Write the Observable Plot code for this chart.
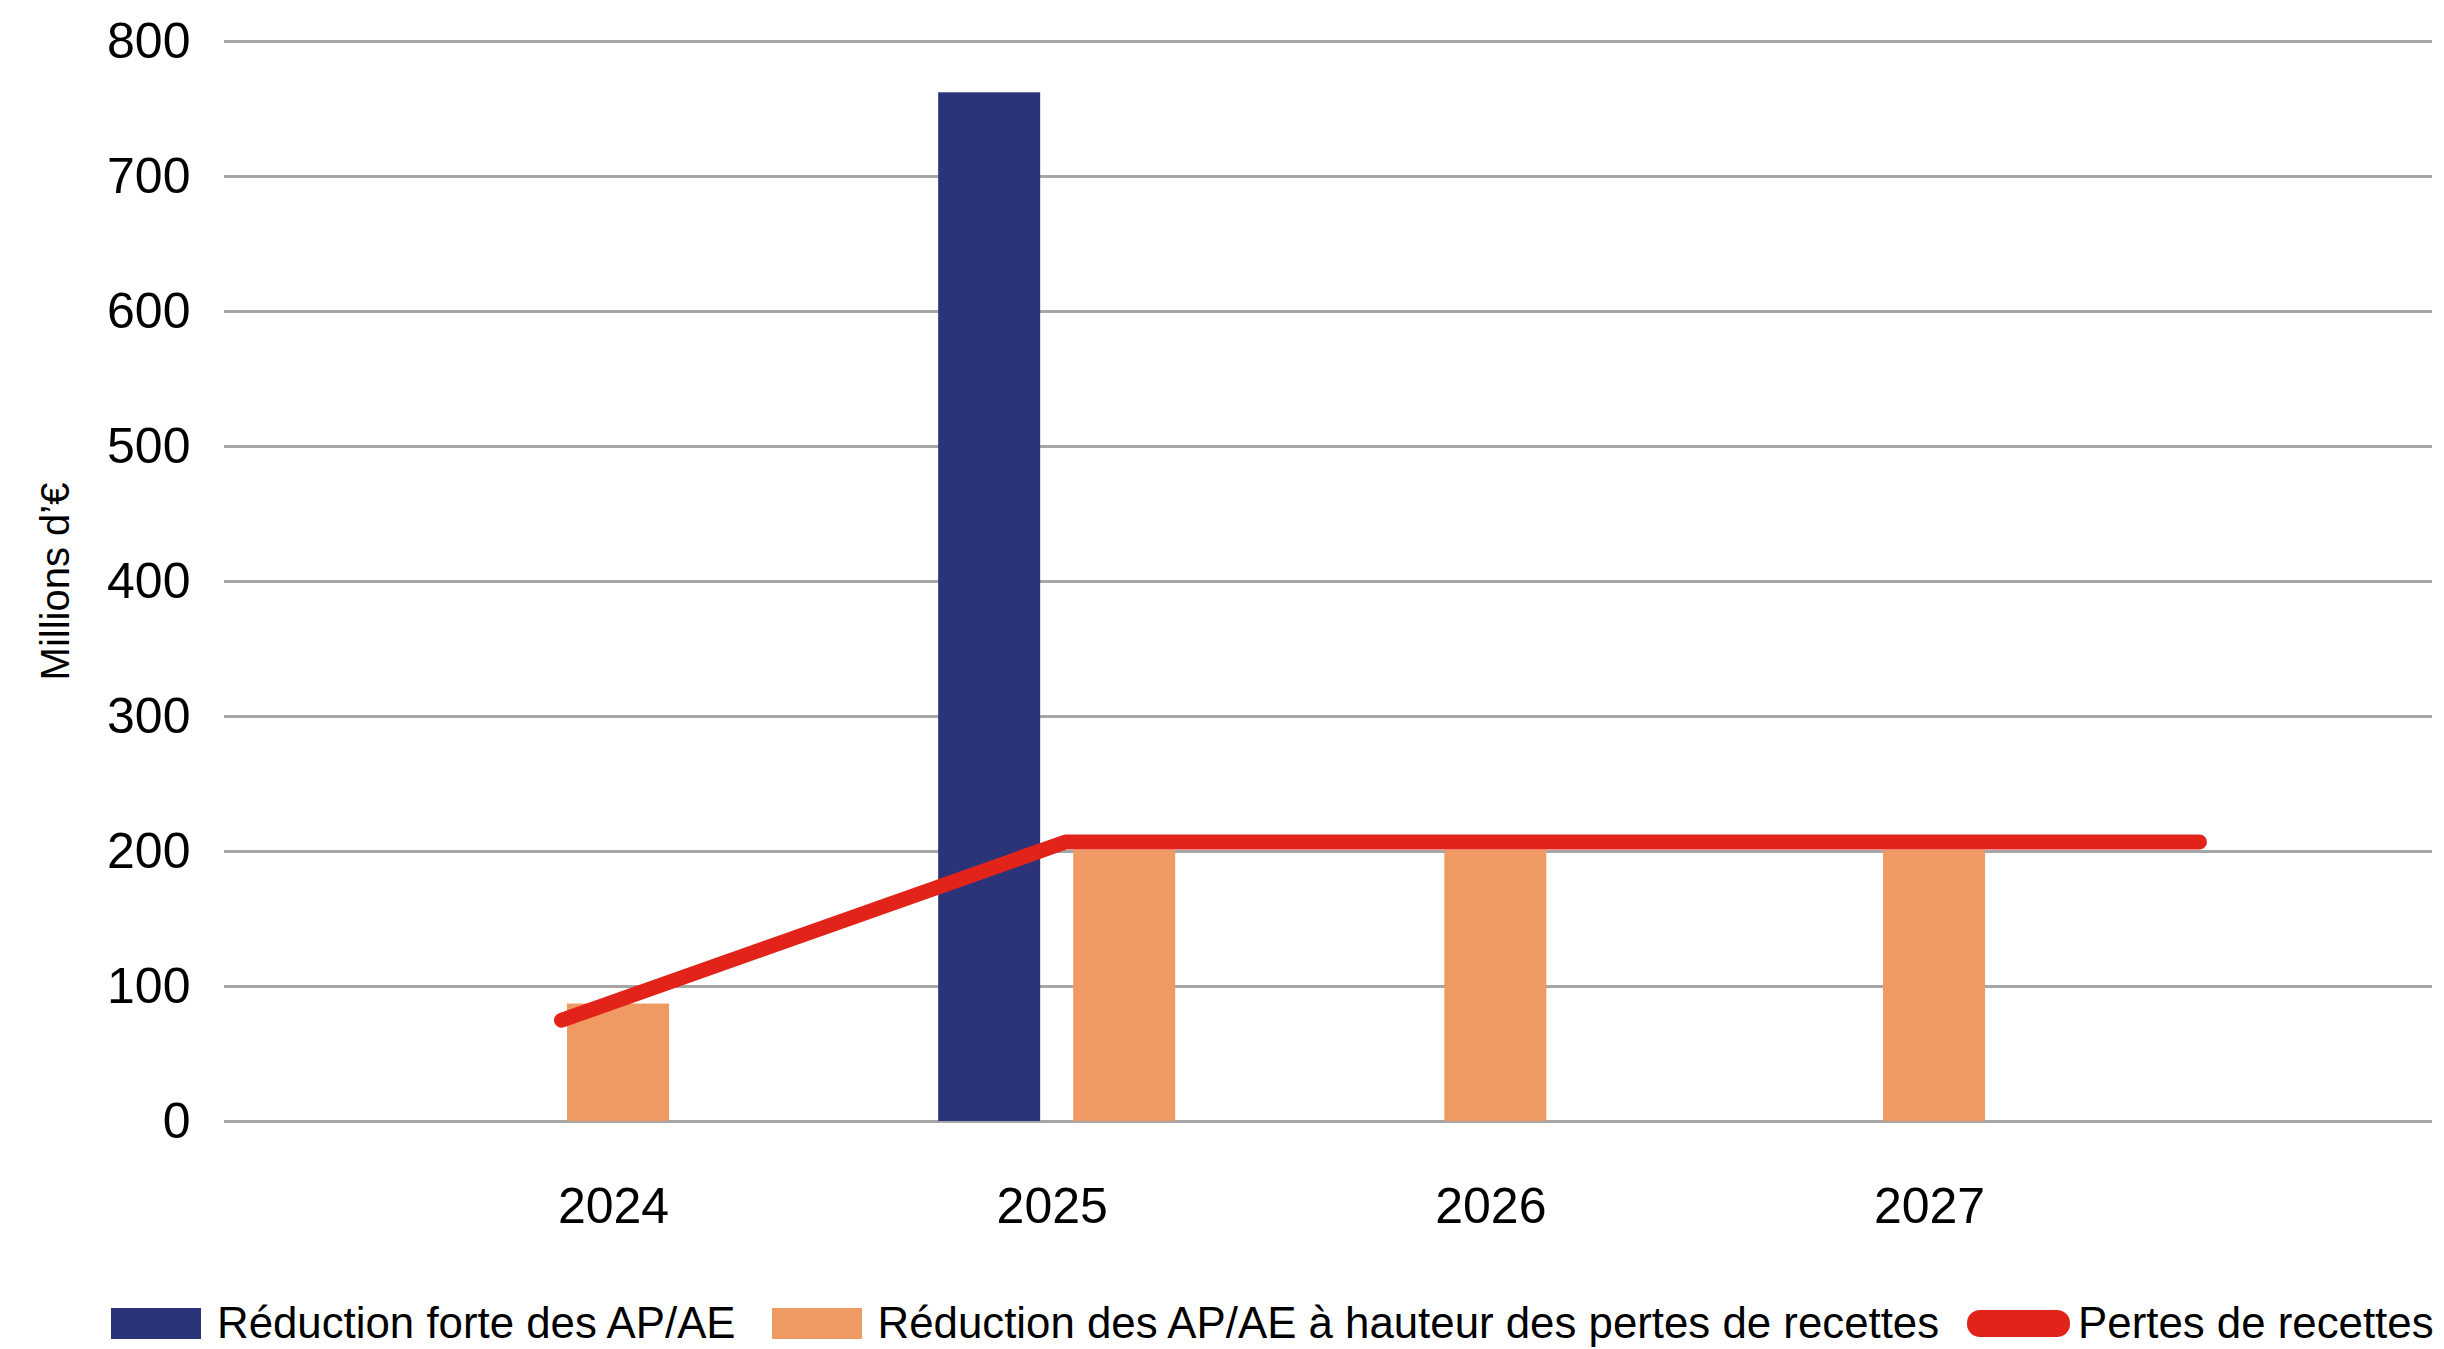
<!DOCTYPE html>
<html>
<head>
<meta charset="utf-8">
<script src="https://cdn.jsdelivr.net/npm/d3@7"></script>
<script src="https://cdn.jsdelivr.net/npm/@observablehq/plot@0.6"></script>
<style>
  html, body { margin: 0; padding: 0; background: #fff; }
  body { width: 2444px; height: 1349px; position: relative; overflow: hidden; font-family: "Liberation Sans", Arial, sans-serif; }
  #legend { position: absolute; left: 111px; top: 1298px; height: 50px; display: flex; align-items: center; font-size: 43.8px; color: #000; white-space: nowrap; }
  .sw { display: inline-block; }
</style>
</head>
<body>
<div id="chart"></div>
<div id="legend"></div>
<script>
// ---- Data ----
const years = [2024, 2025, 2026, 2027];
const seriesLabels = [
  "Réduction forte des AP/AE",
  "Réduction des AP/AE à hauteur des pertes de recettes",
  "Pertes de recettes"
];
const reductionForte = [null, 762, null, null];
const reductionHauteur = [87, 201, 201, 201];
const pertesRecettes = [75, 207, 207, 207];
const yTicks = [0, 100, 200, 300, 400, 500, 600, 700, 800];
const yLabel = "Millions d’€";

// ---- Styles ----
const NAVY = "#2c3479", ORANGE = "#f09a63", RED = "#e2231a", GRID = "#a6a6a6";
const barWidth = 0.2325;      // in year units
const groupSpacing = 0.3078;  // distance between centres of grouped bars
// placement of the revenue-loss line along the year axis (as drawn in the source)
const lineX = d3.scaleLinear().domain([2024, 2025, 2027]).range([2023.870, 2025.019, 2027.604]);

// ---- Build tables ----
const barSeries = [
  {name: seriesLabels[0], values: reductionForte},
  {name: seriesLabels[1], values: reductionHauteur}
];
const bars = years.flatMap((year, i) => {
  const present = barSeries.filter(s => s.values[i] != null);
  return present.map((s, j) => ({
    year,
    series: s.name,
    value: s.values[i],
    xc: year + (j - (present.length - 1) / 2) * groupSpacing
  }));
});
const lineData = years.map((year, i) => ({year, value: pertesRecettes[i]}));

const plot = Plot.plot({
  width: 2444,
  height: 1270,
  marginLeft: 224,
  marginRight: 12,
  marginTop: 41,
  marginBottom: 149,
  x: {type: "linear", domain: [2023.1018, 2028.1352]},
  y: {domain: [0, 800]},
  color: {domain: seriesLabels.slice(0, 2), range: [NAVY, ORANGE]},
  style: {fontFamily: "'Liberation Sans', Arial, sans-serif", fontSize: "50px", color: "#000", background: "#fff"},
  marks: [
    Plot.ruleY(yTicks, {stroke: GRID, strokeWidth: 3}),
    Plot.rectY(bars, {
      x1: d => d.xc - barWidth / 2,
      x2: d => d.xc + barWidth / 2,
      y1: 0,
      y2: "value",
      fill: "series"
    }),
    Plot.line(lineData, {
      x: d => lineX(d.year),
      y: "value",
      stroke: RED,
      strokeWidth: 15,
      strokeLinecap: "round",
      strokeLinejoin: "miter"
    }),
    Plot.axisY({ticks: yTicks, tickSize: 0, tickPadding: 34, fontSize: 50, label: null}),
    Plot.axisX({ticks: years, tickFormat: d => String(d), tickSize: 0, tickPadding: 66, fontSize: 50, dx: -5, label: null}),
    Plot.text([yLabel], {text: d => d, frameAnchor: "left", textAnchor: "middle", rotate: -90, dx: -168, fontSize: 40, fill: "#000"})
  ]
});
document.getElementById("chart").append(plot);

// ---- Legend ----
const legend = document.getElementById("legend");
const items = [
  {label: seriesLabels[0], color: NAVY, w: 90, h: 31, r: 0, gapBefore: 0, gapAfter: 16},
  {label: seriesLabels[1], color: ORANGE, w: 90, h: 31, r: 0, gapBefore: 36, gapAfter: 16},
  {label: seriesLabels[2], color: RED, w: 103, h: 27, r: 13, gapBefore: 28, gapAfter: 8}
];
for (const it of items) {
  const sw = document.createElement("span");
  sw.className = "sw";
  sw.style.width = it.w + "px";
  sw.style.height = it.h + "px";
  sw.style.background = it.color;
  sw.style.borderRadius = it.r + "px";
  sw.style.marginLeft = it.gapBefore + "px";
  sw.style.marginRight = it.gapAfter + "px";
  const tx = document.createElement("span");
  tx.textContent = it.label;
  legend.append(sw, tx);
}
</script>
</body>
</html>
